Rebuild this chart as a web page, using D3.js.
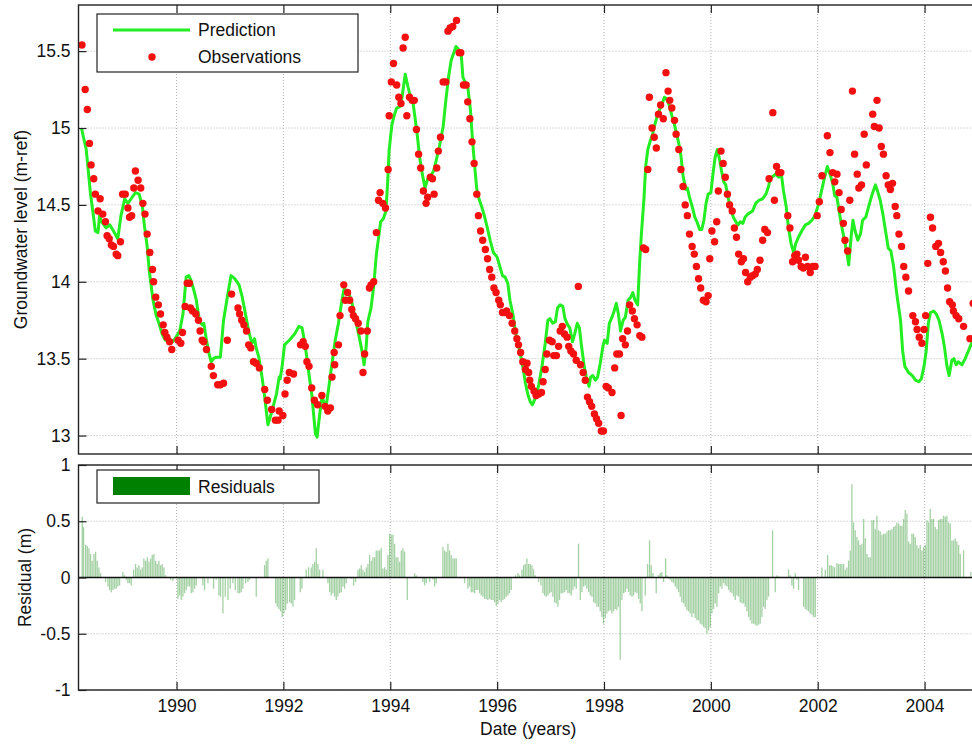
<!DOCTYPE html>
<html>
<head>
<meta charset="utf-8">
<script src="https://cdn.jsdelivr.net/npm/d3@7/dist/d3.min.js"></script>
<style>
  body { margin: 0; background: #fff; }
  svg { display: block; }
  text { font-family: "Liberation Sans", Arial, Helvetica, sans-serif; fill: #111; }
</style>
</head>
<body>
<svg id="chart" width="972" height="746"></svg>
<script>
// Observed groundwater level [decimal year, m-ref]
const observations = [
  [1988.23,15.54],[1988.29,15.25],[1988.33,15.12],[1988.37,14.90],[1988.40,14.76],[1988.45,14.67],
  [1988.48,14.57],[1988.53,14.46],[1988.57,14.54],[1988.62,14.44],[1988.67,14.39],[1988.70,14.30],
  [1988.74,14.28],[1988.78,14.24],[1988.82,14.23],[1988.87,14.18],[1988.90,14.17],[1988.95,14.26],
  [1988.99,14.57],[1989.04,14.57],[1989.09,14.48],[1989.12,14.42],[1989.16,14.43],[1989.20,14.61],
  [1989.23,14.72],[1989.28,14.66],[1989.33,14.61],[1989.37,14.51],[1989.41,14.44],[1989.45,14.31],
  [1989.50,14.19],[1989.55,14.08],[1989.57,14.00],[1989.61,13.90],[1989.66,13.85],[1989.70,13.79],
  [1989.75,13.72],[1989.78,13.67],[1989.82,13.64],[1989.87,13.61],[1989.91,13.56],[1990.03,13.62],
  [1990.08,13.60],[1990.11,13.67],[1990.16,13.84],[1990.20,13.99],[1990.24,13.99],[1990.26,13.83],
  [1990.30,13.81],[1990.36,13.79],[1990.41,13.75],[1990.44,13.68],[1990.48,13.62],[1990.51,13.61],
  [1990.56,13.56],[1990.65,13.45],[1990.69,13.39],[1990.77,13.33],[1990.82,13.33],[1990.88,13.34],
  [1990.95,13.62],[1991.03,13.92],[1991.15,13.83],[1991.18,13.79],[1991.22,13.75],[1991.26,13.72],
  [1991.31,13.68],[1991.35,13.59],[1991.39,13.57],[1991.44,13.48],[1991.49,13.47],[1991.55,13.44],
  [1991.65,13.30],[1991.70,13.23],[1991.78,13.17],[1991.85,13.10],[1991.90,13.10],[1991.92,13.16],
  [1991.99,13.13],[1992.03,13.27],[1992.07,13.36],[1992.11,13.41],[1992.19,13.40],[1992.32,13.59],
  [1992.37,13.61],[1992.41,13.58],[1992.44,13.48],[1992.48,13.45],[1992.53,13.31],[1992.58,13.23],
  [1992.64,13.20],[1992.72,13.26],[1992.78,13.19],[1992.83,13.16],[1992.88,13.18],[1992.91,13.38],
  [1992.95,13.54],[1992.96,13.46],[1993.03,13.59],[1993.06,13.78],[1993.13,13.98],[1993.16,13.88],
  [1993.20,13.93],[1993.24,13.88],[1993.28,13.82],[1993.31,13.78],[1993.35,13.76],[1993.40,13.73],
  [1993.45,13.68],[1993.49,13.41],[1993.52,13.53],[1993.57,13.68],[1993.61,13.96],[1993.64,13.98],
  [1993.69,14.00],[1993.74,14.32],[1993.78,14.53],[1993.81,14.58],[1993.86,14.51],[1993.91,14.48],
  [1993.96,14.73],[1993.98,15.08],[1994.02,15.30],[1994.06,15.42],[1994.12,15.28],[1994.16,15.20],
  [1994.20,15.16],[1994.24,15.52],[1994.28,15.59],[1994.31,15.08],[1994.36,15.20],[1994.41,15.18],
  [1994.45,15.18],[1994.49,14.99],[1994.53,14.83],[1994.57,14.74],[1994.62,14.59],[1994.67,14.51],
  [1994.70,14.55],[1994.75,14.68],[1994.79,14.67],[1994.82,14.57],[1994.87,14.74],[1994.90,14.85],
  [1994.94,14.94],[1994.99,15.30],[1995.04,15.30],[1995.08,15.63],[1995.12,15.65],[1995.17,15.66],
  [1995.24,15.70],[1995.29,15.49],[1995.32,15.49],[1995.37,15.28],[1995.42,15.28],[1995.45,15.17],
  [1995.49,15.06],[1995.53,14.91],[1995.57,14.77],[1995.62,14.57],[1995.65,14.43],[1995.69,14.33],
  [1995.73,14.27],[1995.78,14.21],[1995.82,14.15],[1995.86,14.08],[1995.90,14.03],[1995.94,13.96],
  [1995.98,13.93],[1996.03,13.88],[1996.06,13.85],[1996.10,13.80],[1996.14,13.80],[1996.18,13.81],
  [1996.23,13.78],[1996.28,13.73],[1996.33,13.68],[1996.37,13.63],[1996.40,13.59],[1996.44,13.54],
  [1996.48,13.48],[1996.53,13.43],[1996.56,13.47],[1996.59,13.41],[1996.61,13.36],[1996.64,13.32],
  [1996.69,13.29],[1996.73,13.26],[1996.78,13.27],[1996.83,13.28],[1996.86,13.35],[1996.90,13.43],
  [1996.93,13.53],[1996.98,13.62],[1997.03,13.61],[1997.06,13.52],[1997.11,13.52],[1997.15,13.58],
  [1997.18,13.68],[1997.22,13.71],[1997.26,13.66],[1997.31,13.64],[1997.34,13.58],[1997.38,13.55],
  [1997.43,13.53],[1997.48,13.49],[1997.52,13.97],[1997.56,13.46],[1997.61,13.41],[1997.65,13.36],
  [1997.69,13.25],[1997.73,13.22],[1997.77,13.19],[1997.82,13.14],[1997.86,13.11],[1997.90,13.08],
  [1997.95,13.03],[1997.99,13.03],[1998.04,13.32],[1998.08,13.31],[1998.15,13.28],[1998.20,13.44],
  [1998.24,13.53],[1998.29,13.53],[1998.32,13.13],[1998.35,13.63],[1998.40,13.59],[1998.44,13.68],
  [1998.48,13.85],[1998.53,13.81],[1998.57,13.76],[1998.62,13.72],[1998.67,13.65],[1998.71,13.64],
  [1998.74,14.22],[1998.78,14.21],[1998.82,14.73],[1998.85,15.20],[1998.90,15.00],[1998.94,14.94],
  [1998.98,14.87],[1999.02,15.09],[1999.06,15.15],[1999.11,15.06],[1999.16,15.36],[1999.20,15.24],
  [1999.23,15.18],[1999.27,15.13],[1999.32,15.05],[1999.35,14.96],[1999.40,14.86],[1999.44,14.73],
  [1999.48,14.62],[1999.52,14.50],[1999.56,14.43],[1999.60,14.31],[1999.65,14.23],[1999.69,14.18],
  [1999.73,14.10],[1999.77,14.02],[1999.81,13.96],[1999.86,13.88],[1999.91,13.87],[1999.95,13.91],
  [1999.98,14.15],[2000.02,14.33],[2000.07,14.26],[2000.11,14.39],[2000.14,14.59],[2000.19,14.85],
  [2000.23,14.77],[2000.27,14.68],[2000.31,14.57],[2000.35,14.50],[2000.40,14.46],[2000.44,14.35],
  [2000.48,14.29],[2000.52,14.18],[2000.57,14.13],[2000.61,14.15],[2000.65,14.06],[2000.69,14.00],
  [2000.74,14.03],[2000.78,14.04],[2000.83,14.05],[2000.87,14.08],[2000.92,14.14],[2000.97,14.27],
  [2001.01,14.34],[2001.06,14.32],[2001.09,14.67],[2001.16,15.10],[2001.19,14.53],[2001.23,14.75],
  [2001.27,14.71],[2001.31,14.71],[2001.44,14.43],[2001.48,14.35],[2001.53,14.13],[2001.57,14.17],
  [2001.61,14.18],[2001.64,14.14],[2001.69,14.10],[2001.73,14.09],[2001.77,14.16],[2001.81,14.10],
  [2001.86,14.06],[2001.91,14.10],[2001.95,14.10],[2001.99,14.43],[2002.03,14.52],[2002.08,14.69],
  [2002.18,14.95],[2002.23,14.84],[2002.28,14.71],[2002.32,14.65],[2002.36,14.70],[2002.40,14.58],
  [2002.44,14.47],[2002.48,14.38],[2002.51,14.27],[2002.56,14.20],[2002.60,14.53],[2002.65,15.24],
  [2002.69,14.83],[2002.74,14.70],[2002.77,14.61],[2002.82,14.63],[2002.87,14.96],[2002.91,14.76],
  [2003.03,15.09],[2003.06,15.01],[2003.11,15.18],[2003.15,15.00],[2003.19,14.88],[2003.23,14.83],
  [2003.28,14.69],[2003.32,14.63],[2003.36,14.60],[2003.40,14.64],[2003.45,14.49],[2003.48,14.43],
  [2003.52,14.31],[2003.57,14.23],[2003.61,14.10],[2003.65,14.03],[2003.70,13.94],[2003.78,13.78],
  [2003.83,13.74],[2003.86,13.69],[2003.90,13.64],[2003.95,13.60],[2003.99,13.69],[2004.02,13.78],
  [2004.06,14.12],[2004.11,14.42],[2004.15,14.35],[2004.21,14.23],[2004.26,14.25],[2004.30,14.19],
  [2004.35,14.13],[2004.39,14.07],[2004.43,13.96],[2004.47,13.87],[2004.52,13.85],[2004.54,13.81],
  [2004.59,13.78],[2004.64,13.76],[2004.73,13.71],[2004.85,13.63],[2004.91,13.86]
];

// Model prediction [decimal year, m-ref]
const prediction = [
  [1988.22,15.00],[1988.31,14.86],[1988.39,14.57],[1988.44,14.44],[1988.48,14.33],[1988.53,14.32],
  [1988.56,14.43],[1988.60,14.39],[1988.68,14.35],[1988.75,14.37],[1988.82,14.33],[1988.90,14.28],
  [1988.96,14.43],[1989.03,14.54],[1989.09,14.51],[1989.15,14.54],[1989.23,14.58],[1989.30,14.57],
  [1989.36,14.49],[1989.40,14.36],[1989.45,14.23],[1989.49,14.07],[1989.56,13.88],[1989.62,13.78],
  [1989.68,13.72],[1989.73,13.66],[1989.79,13.62],[1989.88,13.62],[1989.93,13.61],[1989.99,13.64],
  [1990.06,13.68],[1990.12,13.79],[1990.18,14.03],[1990.23,14.04],[1990.27,14.01],[1990.32,13.95],
  [1990.37,13.88],[1990.43,13.74],[1990.48,13.72],[1990.51,13.73],[1990.56,13.62],[1990.61,13.53],
  [1990.65,13.48],[1990.69,13.50],[1990.74,13.51],[1990.82,13.51],[1990.88,13.75],[1990.96,13.92],
  [1991.02,14.04],[1991.09,14.02],[1991.17,13.98],[1991.23,13.90],[1991.29,13.79],[1991.35,13.68],
  [1991.41,13.60],[1991.46,13.63],[1991.49,13.57],[1991.54,13.51],[1991.60,13.38],[1991.65,13.25],
  [1991.71,13.07],[1991.77,13.14],[1991.87,13.27],[1991.92,13.38],[1991.94,13.37],[1991.98,13.46],
  [1992.02,13.59],[1992.11,13.62],[1992.21,13.66],[1992.29,13.71],[1992.35,13.70],[1992.39,13.62],
  [1992.43,13.53],[1992.47,13.42],[1992.53,13.27],[1992.60,13.01],[1992.63,12.99],[1992.68,13.14],
  [1992.72,13.25],[1992.77,13.21],[1992.80,13.19],[1992.84,13.29],[1992.91,13.47],[1992.97,13.62],
  [1993.03,13.73],[1993.10,13.89],[1993.14,13.96],[1993.19,13.93],[1993.24,13.91],[1993.28,13.87],
  [1993.32,13.80],[1993.37,13.72],[1993.42,13.64],[1993.47,13.55],[1993.51,13.46],[1993.55,13.58],
  [1993.58,13.74],[1993.64,13.83],[1993.69,13.97],[1993.74,14.18],[1993.79,14.31],[1993.82,14.39],
  [1993.87,14.41],[1993.92,14.46],[1993.95,14.64],[1993.98,14.86],[1994.03,15.02],[1994.08,15.09],
  [1994.12,15.13],[1994.19,15.14],[1994.22,15.20],[1994.28,15.35],[1994.33,15.27],[1994.38,15.20],
  [1994.42,15.18],[1994.47,15.05],[1994.51,14.94],[1994.55,14.81],[1994.60,14.70],[1994.65,14.61],
  [1994.70,14.67],[1994.76,14.69],[1994.81,14.72],[1994.86,14.79],[1994.92,14.88],[1994.99,15.01],
  [1995.04,15.18],[1995.09,15.33],[1995.14,15.44],[1995.18,15.48],[1995.23,15.53],[1995.28,15.51],
  [1995.33,15.47],[1995.36,15.33],[1995.40,15.30],[1995.45,15.27],[1995.50,15.12],[1995.54,14.92],
  [1995.58,14.75],[1995.62,14.60],[1995.66,14.54],[1995.71,14.49],[1995.76,14.43],[1995.81,14.36],
  [1995.87,14.27],[1995.93,14.19],[1996.00,14.16],[1996.05,14.10],[1996.10,14.04],[1996.15,14.03],
  [1996.20,13.99],[1996.24,13.88],[1996.30,13.78],[1996.34,13.68],[1996.39,13.60],[1996.44,13.52],
  [1996.48,13.45],[1996.53,13.34],[1996.58,13.26],[1996.62,13.22],[1996.66,13.20],[1996.71,13.24],
  [1996.78,13.33],[1996.84,13.45],[1996.90,13.60],[1996.95,13.75],[1996.99,13.76],[1997.04,13.73],
  [1997.09,13.74],[1997.13,13.83],[1997.18,13.85],[1997.23,13.84],[1997.27,13.76],[1997.32,13.72],
  [1997.36,13.70],[1997.41,13.61],[1997.45,13.66],[1997.50,13.73],[1997.54,13.70],[1997.58,13.58],
  [1997.63,13.45],[1997.67,13.38],[1997.72,13.32],[1997.75,13.38],[1997.79,13.39],[1997.84,13.36],
  [1997.88,13.38],[1997.93,13.47],[1997.98,13.58],[1998.01,13.62],[1998.06,13.60],[1998.10,13.73],
  [1998.15,13.77],[1998.19,13.81],[1998.23,13.86],[1998.27,13.79],[1998.31,13.68],[1998.36,13.75],
  [1998.40,13.77],[1998.45,13.88],[1998.50,13.90],[1998.54,13.93],[1998.58,13.88],[1998.63,13.85],
  [1998.67,14.14],[1998.70,14.31],[1998.75,14.55],[1998.78,14.75],[1998.82,14.86],[1998.86,14.91],
  [1998.91,14.96],[1998.95,15.02],[1998.99,15.07],[1999.04,15.12],[1999.09,15.16],[1999.13,15.20],
  [1999.17,15.19],[1999.22,15.15],[1999.27,15.08],[1999.32,15.02],[1999.36,14.96],[1999.40,14.90],
  [1999.44,14.82],[1999.48,14.69],[1999.53,14.60],[1999.56,14.61],[1999.60,14.55],[1999.65,14.49],
  [1999.70,14.42],[1999.74,14.39],[1999.79,14.34],[1999.83,14.34],[1999.87,14.40],[1999.91,14.51],
  [1999.95,14.57],[2000.00,14.58],[2000.04,14.70],[2000.08,14.81],[2000.12,14.86],[2000.16,14.80],
  [2000.20,14.72],[2000.24,14.65],[2000.28,14.63],[2000.32,14.55],[2000.37,14.48],[2000.42,14.42],
  [2000.47,14.39],[2000.51,14.37],[2000.55,14.39],[2000.60,14.38],[2000.64,14.42],[2000.69,14.44],
  [2000.78,14.46],[2000.84,14.51],[2000.90,14.53],[2000.97,14.54],[2001.03,14.57],[2001.08,14.62],
  [2001.11,14.67],[2001.21,14.70],[2001.27,14.68],[2001.32,14.70],[2001.36,14.59],[2001.41,14.49],
  [2001.45,14.36],[2001.50,14.25],[2001.55,14.19],[2001.59,14.25],[2001.64,14.29],[2001.70,14.33],
  [2001.77,14.37],[2001.83,14.38],[2001.89,14.40],[2001.95,14.43],[2002.02,14.51],[2002.07,14.59],
  [2002.13,14.68],[2002.18,14.75],[2002.23,14.70],[2002.28,14.64],[2002.32,14.56],[2002.36,14.55],
  [2002.40,14.46],[2002.45,14.36],[2002.50,14.27],[2002.55,14.18],[2002.58,14.11],[2002.63,14.31],
  [2002.66,14.40],[2002.70,14.33],[2002.75,14.27],[2002.80,14.31],[2002.84,14.40],[2002.90,14.42],
  [2002.97,14.51],[2003.02,14.57],[2003.08,14.63],[2003.12,14.59],[2003.17,14.53],[2003.22,14.44],
  [2003.27,14.33],[2003.32,14.22],[2003.37,14.20],[2003.42,14.10],[2003.48,13.92],[2003.55,13.75],
  [2003.59,13.55],[2003.63,13.45],[2003.70,13.41],[2003.77,13.39],[2003.83,13.36],[2003.89,13.35],
  [2003.94,13.37],[2003.99,13.45],[2004.03,13.55],[2004.07,13.73],[2004.11,13.80],[2004.17,13.81],
  [2004.22,13.79],[2004.27,13.75],[2004.33,13.66],[2004.37,13.58],[2004.42,13.45],[2004.46,13.39],
  [2004.51,13.49],[2004.55,13.50],[2004.59,13.46],[2004.63,13.48],[2004.70,13.46],[2004.76,13.50],
  [2004.82,13.55],[2004.88,13.60],[2004.95,13.67]
];

// Residuals [decimal year, m]
const residuals = [
  [1988.235,0.54],[1988.260,0.45],[1988.298,0.29],[1988.329,0.28],[1988.360,0.26],[1988.391,0.21],
  [1988.422,0.15],[1988.454,0.21],[1988.485,0.23],[1988.516,0.15],[1988.547,0.09],[1988.578,0.04],
  [1988.672,-0.04],[1988.716,-0.08],[1988.747,-0.11],[1988.778,-0.13],[1988.809,-0.11],[1988.840,-0.10],
  [1988.872,-0.10],[1988.903,-0.08],[1988.934,-0.07],[1988.996,0.05],[1989.027,0.02],[1989.059,-0.02],
  [1989.090,-0.05],[1989.121,-0.05],[1989.152,-0.07],[1989.196,0.07],[1989.233,0.12],[1989.265,0.09],
  [1989.296,0.11],[1989.327,0.07],[1989.358,0.09],[1989.389,0.17],[1989.421,0.15],[1989.452,0.18],
  [1989.483,0.14],[1989.514,0.17],[1989.545,0.20],[1989.576,0.21],[1989.608,0.15],[1989.639,0.12],
  [1989.670,0.15],[1989.701,0.11],[1989.732,0.12],[1989.764,0.09],[1989.795,0.02],[1989.888,-0.02],
  [1989.932,-0.03],[1990.026,-0.19],[1990.057,-0.16],[1990.088,-0.20],[1990.119,-0.17],[1990.150,-0.14],
  [1990.182,-0.11],[1990.213,-0.08],[1990.244,-0.08],[1990.275,-0.14],[1990.306,-0.13],[1990.338,-0.10],
  [1990.369,-0.07],[1990.493,-0.07],[1990.525,-0.11],[1990.587,-0.05],[1990.693,-0.10],[1990.743,-0.02],
  [1990.793,-0.16],[1990.824,-0.17],[1990.868,-0.32],[1990.912,-0.17],[1990.962,-0.20],[1991.005,-0.10],
  [1991.055,-0.05],[1991.099,-0.11],[1991.149,-0.14],[1991.180,-0.14],[1991.211,-0.13],[1991.242,-0.10],
  [1991.292,-0.05],[1991.336,-0.04],[1991.367,-0.02],[1991.492,-0.17],[1991.648,0.11],[1991.679,0.15],
  [1991.710,0.17],[1991.854,-0.23],[1991.885,-0.26],[1991.916,-0.28],[1991.947,-0.30],[1991.978,-0.35],
  [1992.010,-0.32],[1992.041,-0.29],[1992.072,-0.23],[1992.116,-0.22],[1992.147,-0.23],[1992.178,-0.26],
  [1992.209,-0.20],[1992.315,-0.13],[1992.347,-0.10],[1992.427,0.07],[1992.471,0.09],[1992.521,0.09],
  [1992.552,0.12],[1992.584,0.14],[1992.615,0.26],[1992.646,0.12],[1992.677,0.07],[1992.740,0.07],
  [1992.833,-0.05],[1992.864,-0.13],[1992.896,-0.16],[1992.927,-0.14],[1992.958,-0.17],[1992.989,-0.20],
  [1993.020,-0.17],[1993.052,-0.14],[1993.083,-0.13],[1993.114,-0.08],[1993.145,-0.10],[1993.176,-0.05],
  [1993.270,-0.01],[1993.314,-0.07],[1993.351,-0.04],[1993.395,0.07],[1993.426,0.08],[1993.457,0.11],
  [1993.488,0.07],[1993.519,0.05],[1993.551,0.09],[1993.582,0.12],[1993.613,0.20],[1993.644,0.15],
  [1993.675,0.18],[1993.707,0.18],[1993.738,0.24],[1993.769,0.24],[1993.800,0.24],[1993.831,0.26],
  [1993.862,0.08],[1993.894,0.09],[1993.925,0.07],[1993.956,0.20],[1993.987,0.39],[1994.018,0.38],
  [1994.050,0.38],[1994.081,0.30],[1994.112,0.18],[1994.143,0.18],[1994.174,0.14],[1994.206,0.24],
  [1994.237,0.26],[1994.268,0.23],[1994.318,-0.20],[1994.455,0.04],[1994.486,0.02],[1994.611,-0.04],
  [1994.642,-0.07],[1994.674,-0.05],[1994.736,-0.04],[1994.798,-0.02],[1994.830,-0.08],[1994.861,-0.05],
  [1994.985,0.27],[1995.017,0.24],[1995.048,0.23],[1995.079,0.30],[1995.110,0.24],[1995.141,0.20],
  [1995.173,0.17],[1995.204,0.17],[1995.235,0.17],[1995.391,-0.05],[1995.453,-0.10],[1995.485,-0.08],
  [1995.516,-0.13],[1995.547,-0.13],[1995.578,-0.14],[1995.609,-0.11],[1995.640,-0.11],[1995.672,-0.14],
  [1995.703,-0.16],[1995.734,-0.17],[1995.765,-0.19],[1995.796,-0.19],[1995.827,-0.20],[1995.859,-0.19],
  [1995.890,-0.20],[1995.921,-0.20],[1995.952,-0.22],[1995.983,-0.25],[1996.015,-0.23],[1996.046,-0.20],
  [1996.077,-0.22],[1996.108,-0.20],[1996.139,-0.19],[1996.171,-0.17],[1996.202,-0.16],[1996.233,-0.14],
  [1996.264,-0.11],[1996.345,0.02],[1996.389,0.04],[1996.420,0.02],[1996.464,0.07],[1996.495,0.11],
  [1996.526,0.12],[1996.557,0.17],[1996.589,0.12],[1996.620,0.12],[1996.651,0.11],[1996.682,0.07],
  [1996.713,0.02],[1996.776,-0.04],[1996.820,-0.07],[1996.857,-0.14],[1996.888,-0.16],[1996.919,-0.17],
  [1996.951,-0.16],[1996.982,-0.14],[1997.013,-0.13],[1997.044,-0.17],[1997.075,-0.22],[1997.106,-0.23],
  [1997.138,-0.26],[1997.169,-0.20],[1997.200,-0.14],[1997.231,-0.14],[1997.262,-0.13],[1997.294,-0.11],
  [1997.325,-0.14],[1997.356,-0.14],[1997.387,-0.16],[1997.418,-0.11],[1997.450,-0.08],[1997.481,-0.10],
  [1997.524,0.30],[1997.556,-0.20],[1997.587,-0.13],[1997.618,-0.08],[1997.649,-0.07],[1997.680,-0.10],
  [1997.712,-0.13],[1997.743,-0.16],[1997.774,-0.17],[1997.805,-0.22],[1997.836,-0.23],[1997.868,-0.26],
  [1997.899,-0.26],[1997.930,-0.30],[1997.961,-0.35],[1997.992,-0.41],[1998.024,-0.36],[1998.055,-0.32],
  [1998.086,-0.30],[1998.117,-0.29],[1998.148,-0.32],[1998.180,-0.30],[1998.211,-0.28],[1998.242,-0.29],
  [1998.273,-0.26],[1998.304,-0.73],[1998.335,-0.20],[1998.367,-0.14],[1998.398,-0.13],[1998.429,-0.10],
  [1998.460,-0.13],[1998.491,-0.16],[1998.523,-0.17],[1998.554,-0.16],[1998.585,-0.13],[1998.616,-0.14],
  [1998.647,-0.19],[1998.679,-0.23],[1998.710,-0.30],[1998.772,-0.16],[1998.816,0.12],[1998.853,0.33],
  [1998.884,0.11],[1998.916,0.04],[1998.978,-0.14],[1999.022,0.02],[1999.053,0.04],[1999.084,0.05],
  [1999.115,-0.04],[1999.153,0.17],[1999.178,0.02],[1999.209,-0.01],[1999.240,-0.02],[1999.271,-0.04],
  [1999.302,-0.05],[1999.334,-0.08],[1999.365,-0.10],[1999.396,-0.13],[1999.427,-0.17],[1999.458,-0.22],
  [1999.490,-0.23],[1999.521,-0.26],[1999.552,-0.29],[1999.583,-0.30],[1999.614,-0.32],[1999.646,-0.35],
  [1999.677,-0.32],[1999.708,-0.36],[1999.739,-0.38],[1999.770,-0.38],[1999.802,-0.41],[1999.833,-0.42],
  [1999.864,-0.44],[1999.895,-0.45],[1999.926,-0.50],[1999.958,-0.47],[1999.989,-0.44],[2000.020,-0.32],
  [2000.051,-0.28],[2000.082,-0.23],[2000.114,-0.26],[2000.145,-0.14],[2000.176,-0.08],[2000.207,-0.10],
  [2000.238,-0.05],[2000.270,-0.07],[2000.301,-0.08],[2000.332,-0.11],[2000.363,-0.13],[2000.394,-0.14],
  [2000.426,-0.17],[2000.457,-0.20],[2000.488,-0.16],[2000.519,-0.17],[2000.550,-0.22],[2000.582,-0.23],
  [2000.613,-0.23],[2000.644,-0.26],[2000.675,-0.30],[2000.706,-0.35],[2000.738,-0.38],[2000.769,-0.41],
  [2000.800,-0.41],[2000.831,-0.42],[2000.862,-0.43],[2000.893,-0.42],[2000.924,-0.41],[2000.956,-0.35],
  [2000.987,-0.26],[2001.018,-0.28],[2001.049,-0.20],[2001.080,-0.17],[2001.155,0.42],[2001.205,-0.13],
  [2001.236,0.02],[2001.268,0.01],[2001.455,0.07],[2001.486,0.02],[2001.517,-0.07],[2001.548,-0.10],
  [2001.580,0.04],[2001.611,-0.02],[2001.642,-0.11],[2001.736,-0.26],[2001.767,-0.28],[2001.798,-0.29],
  [2001.829,-0.30],[2001.860,-0.32],[2001.892,-0.33],[2001.923,-0.35],[2001.954,-0.35],[2002.079,0.09],
  [2002.141,0.07],[2002.185,0.20],[2002.222,0.11],[2002.254,0.11],[2002.285,0.10],[2002.316,0.09],
  [2002.359,0.13],[2002.391,0.12],[2002.422,0.12],[2002.453,0.12],[2002.484,0.12],[2002.516,0.07],
  [2002.547,0.09],[2002.578,0.15],[2002.609,0.24],[2002.640,0.83],[2002.671,0.49],[2002.703,0.42],
  [2002.734,0.36],[2002.765,0.33],[2002.796,0.29],[2002.827,0.30],[2002.859,0.52],[2002.890,0.35],
  [2002.921,0.21],[2002.952,0.18],[2002.983,0.18],[2003.015,0.51],[2003.046,0.51],[2003.077,0.43],
  [2003.108,0.55],[2003.139,0.42],[2003.170,0.41],[2003.202,0.38],[2003.233,0.39],[2003.264,0.39],
  [2003.295,0.41],[2003.327,0.42],[2003.358,0.42],[2003.389,0.43],[2003.420,0.45],[2003.451,0.46],
  [2003.482,0.49],[2003.514,0.48],[2003.545,0.46],[2003.576,0.46],[2003.607,0.52],[2003.638,0.60],
  [2003.670,0.57],[2003.701,0.32],[2003.732,0.30],[2003.763,0.39],[2003.794,0.39],[2003.825,0.36],
  [2003.857,0.29],[2003.888,0.26],[2003.919,0.29],[2003.950,0.24],[2003.981,0.27],[2004.013,0.29],
  [2004.044,0.51],[2004.075,0.49],[2004.106,0.61],[2004.137,0.52],[2004.168,0.52],[2004.200,0.45],
  [2004.231,0.43],[2004.262,0.51],[2004.293,0.52],[2004.325,0.52],[2004.356,0.55],[2004.387,0.54],
  [2004.418,0.55],[2004.449,0.49],[2004.481,0.48],[2004.512,0.33],[2004.543,0.33],[2004.574,0.35],
  [2004.605,0.32],[2004.637,0.29],[2004.668,0.21],[2004.730,0.24],[2004.867,0.05]
];

const yearTicks = [1990, 1992, 1994, 1996, 1998, 2000, 2002, 2004];
const levelTicks = [13, 13.5, 14, 14.5, 15, 15.5];
const residualTicks = [-1, -0.5, 0, 0.5, 1];

const FONT = 17.5;
const FAMILY = '"Liberation Sans", Arial, Helvetica, sans-serif';
const svg = d3.select("#chart");

// Panel geometry (the plot runs slightly past the right edge of the canvas)
const left = 78.5, right = 978;
const top1 = 5, bottom1 = 454;
const top2 = 465, bottom2 = 690;

const x = d3.scaleLinear().domain([1988.165, 2005.0]).range([left, right]);
const yLevel = d3.scaleLinear().domain([12.88, 15.8]).range([bottom1, top1]);
const yRes = d3.scaleLinear().domain([-1, 1]).range([bottom2, top2]);

// plain hyphen-minus for negative tick labels
const plainNumber = d => String(d);

const defs = svg.append("defs");
defs.append("clipPath").attr("id", "clipTop")
  .append("rect").attr("x", left).attr("y", top1).attr("width", right - left).attr("height", bottom1 - top1);
defs.append("clipPath").attr("id", "clipBottom")
  .append("rect").attr("x", left).attr("y", top2).attr("width", right - left).attr("height", bottom2 - top2);

function drawGrid(g, yScale, yTicks, yTop, yBottom) {
  g.selectAll(".vgrid").data(yearTicks).join("line")
    .attr("x1", d => x(d)).attr("x2", d => x(d))
    .attr("y1", yTop).attr("y2", yBottom)
    .attr("stroke", "#b4b4b4").attr("stroke-width", 1).attr("stroke-dasharray", "1,2");
  g.selectAll(".hgrid").data(yTicks).join("line")
    .attr("x1", left).attr("x2", right)
    .attr("y1", d => yScale(d)).attr("y2", d => yScale(d))
    .attr("stroke", "#b4b4b4").attr("stroke-width", 1).attr("stroke-dasharray", "1,2");
}

function drawAxes(yScale, yTicks, yTop, yBottom, withLabels) {
  const gy = svg.append("g").attr("transform", `translate(${left},0)`)
    .call(d3.axisLeft(yScale).tickValues(yTicks).tickSize(-8).tickPadding(8).tickFormat(plainNumber));
  gy.select(".domain").remove();
  gy.selectAll(".tick line").attr("stroke", "#222").attr("stroke-width", 1.2);
  gy.selectAll(".tick text").attr("font-size", FONT).attr("fill", "#111").attr("font-family", FAMILY);

  const gb = svg.append("g").attr("transform", `translate(0,${yBottom})`)
    .call(d3.axisBottom(x).tickValues(yearTicks).tickSize(-8).tickPadding(10)
      .tickFormat(withLabels ? plainNumber : () => ""));
  gb.select(".domain").remove();
  gb.selectAll(".tick line").attr("stroke", "#222").attr("stroke-width", 1.2);
  gb.selectAll(".tick text").attr("font-size", FONT).attr("fill", "#111").attr("font-family", FAMILY);

  const gt = svg.append("g").attr("transform", `translate(0,${yTop})`)
    .call(d3.axisTop(x).tickValues(yearTicks).tickSize(-8).tickFormat(() => ""));
  gt.select(".domain").remove();
  gt.selectAll(".tick line").attr("stroke", "#222").attr("stroke-width", 1.2);

  svg.append("rect").attr("x", left).attr("y", yTop)
    .attr("width", right - left).attr("height", yBottom - yTop)
    .attr("fill", "none").attr("stroke", "#222").attr("stroke-width", 1.4);
}

// ---- Upper panel: groundwater level ----
const gTop = svg.append("g");
drawGrid(gTop, yLevel, levelTicks, top1, bottom1);

const plotTop = svg.append("g").attr("clip-path", "url(#clipTop)");
plotTop.append("path").datum(prediction)
  .attr("fill", "none").attr("stroke", "#22ee22").attr("stroke-width", 3)
  .attr("stroke-linejoin", "round")
  .attr("d", d3.line().x(d => x(d[0])).y(d => yLevel(d[1])));

plotTop.selectAll("circle").data(observations).join("circle")
  .attr("cx", d => x(d[0])).attr("cy", d => yLevel(d[1])).attr("r", 3.7)
  .attr("fill", "#f21010");

drawAxes(yLevel, levelTicks, top1, bottom1, false);

// Legend (upper)
const leg1 = svg.append("g");
leg1.append("rect").attr("x", 97).attr("y", 14).attr("width", 261).attr("height", 58)
  .attr("fill", "#fff").attr("stroke", "#222").attr("stroke-width", 1.2);
leg1.append("line").attr("x1", 113).attr("x2", 190).attr("y1", 30).attr("y2", 30)
  .attr("stroke", "#22ee22").attr("stroke-width", 3);
leg1.append("text").attr("x", 198).attr("y", 30).attr("dy", "0.35em")
  .attr("font-size", FONT).text("Prediction");
leg1.append("circle").attr("cx", 152).attr("cy", 57).attr("r", 3.7).attr("fill", "#f21010");
leg1.append("text").attr("x", 198).attr("y", 57).attr("dy", "0.35em")
  .attr("font-size", FONT).text("Observations");

svg.append("text")
  .attr("transform", `translate(20.5,${(top1 + bottom1) / 2}) rotate(-90)`)
  .attr("text-anchor", "middle").attr("dy", "0.35em")
  .attr("font-size", FONT).text("Groundwater level (m-ref)");

// ---- Lower panel: residuals ----
const gBot = svg.append("g");
drawGrid(gBot, yRes, residualTicks, top2, bottom2);

const plotBot = svg.append("g").attr("clip-path", "url(#clipBottom)");
plotBot.selectAll(".res").data(residuals).join("line")
  .attr("class", "res")
  .attr("x1", d => x(d[0])).attr("x2", d => x(d[0]))
  .attr("y1", yRes(0)).attr("y2", d => yRes(d[1]))
  .attr("stroke", "#008000").attr("stroke-opacity", 0.36).attr("stroke-width", 1.3);

plotBot.append("line")
  .attr("x1", left).attr("x2", right).attr("y1", yRes(0)).attr("y2", yRes(0))
  .attr("stroke", "#111").attr("stroke-width", 1.6);

drawAxes(yRes, residualTicks, top2, bottom2, true);

// Legend (lower)
const leg2 = svg.append("g");
leg2.append("rect").attr("x", 97).attr("y", 470).attr("width", 222).attr("height", 33)
  .attr("fill", "#fff").attr("stroke", "#222").attr("stroke-width", 1.2);
leg2.append("rect").attr("x", 113).attr("y", 477).attr("width", 77).attr("height", 18)
  .attr("fill", "#008000");
leg2.append("text").attr("x", 198).attr("y", 487).attr("dy", "0.35em")
  .attr("font-size", FONT).text("Residuals");

svg.append("text")
  .attr("transform", `translate(24.5,${(top2 + bottom2) / 2}) rotate(-90)`)
  .attr("text-anchor", "middle").attr("dy", "0.35em")
  .attr("font-size", FONT).text("Residual (m)");

svg.append("text")
  .attr("x", (left + right) / 2).attr("y", 735)
  .attr("text-anchor", "middle").attr("font-size", FONT).text("Date (years)");
</script>
</body>
</html>
